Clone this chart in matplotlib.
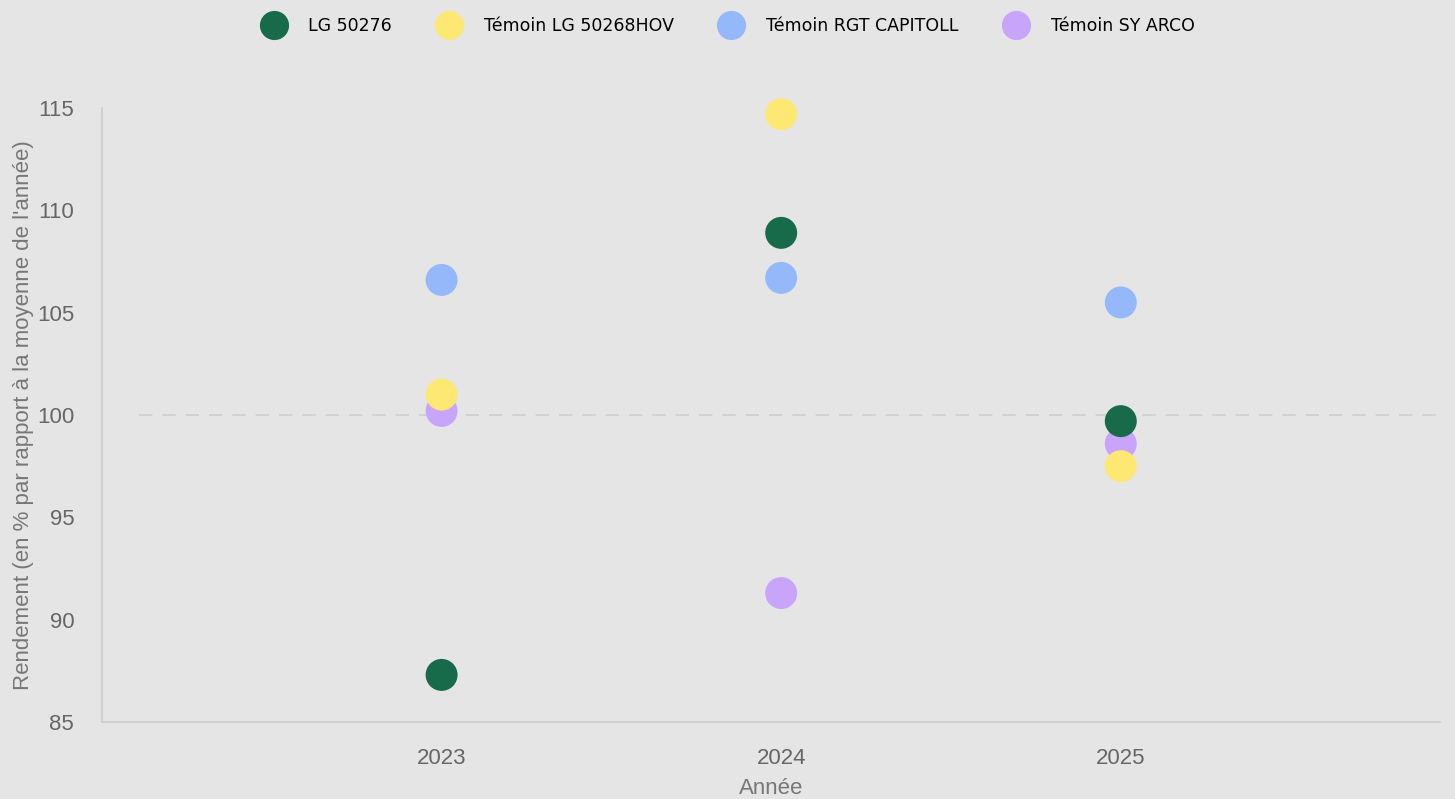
import matplotlib.pyplot as plt
from matplotlib.lines import Line2D

# data
years = [2023, 2024, 2025]
series = ['LG 50276', 'Témoin LG 50268HOV', 'Témoin RGT CAPITOLL', 'Témoin SY ARCO']
colors = ['#176b4a', '#fde873', '#95b8fb', '#c8a5fb']
lg_50276 = [87.3, 108.9, 99.7]
lg_50268hov = [101.0, 114.7, 97.5]
rgt_capitoll = [106.6, 106.7, 105.5]
sy_arco = [100.2, 91.3, 98.6]
values = [lg_50276, lg_50268hov, rgt_capitoll, sy_arco]
# drawing order in the reference (later on top)
order = [2, 3, 1, 0]

bg = '#e5e5e5'
plt.rcParams['font.family'] = ['Liberation Sans', 'DejaVu Sans']

fig = plt.figure(figsize=(14.55, 7.99), dpi=100, facecolor=bg)
ax = fig.add_axes([0.0701, 0.0964, 0.9196, 0.7684], facecolor=bg)

ax.axhline(100, color='#cfcfcf', lw=1.2, dashes=(8, 6), xmin=0.028, zorder=1)
for i in order:
    ax.scatter(years, values[i], s=530, color=colors[i], edgecolors='none', zorder=3,
               clip_on=False)

ax.set_xlim(2022, 2025.94)
ax.set_ylim(85, 115)
ax.set_yticks(range(85, 116, 5))
ax.set_xticks(years)
ax.tick_params(length=0, labelsize=16, labelcolor='#666666')
ax.tick_params(axis='y', pad=20)
ax.tick_params(axis='x', pad=19)
for side in ['top', 'right']:
    ax.spines[side].set_visible(False)
for side in ['left', 'bottom']:
    ax.spines[side].set_color('#cccccc')
    ax.spines[side].set_linewidth(1.2)

ax.set_ylabel("Rendement (en % par rapport à la moyenne de l'année)", fontsize=16,
              color='#777777', labelpad=2)
ax.set_xlabel('Année', fontsize=16, color='#777777', labelpad=6)

handles = [Line2D([], [], ls='none', marker='o', markersize=21, color=c, markeredgewidth=0)
           for c in colors]
fig.legend(handles, series, loc='upper center', bbox_to_anchor=(0.4985, 0.998), ncol=4,
           frameon=False, handletextpad=1.0, columnspacing=2.3,
           prop={'family': 'DejaVu Sans', 'size': 12.5})

fig.savefig('out.png', facecolor=bg)
